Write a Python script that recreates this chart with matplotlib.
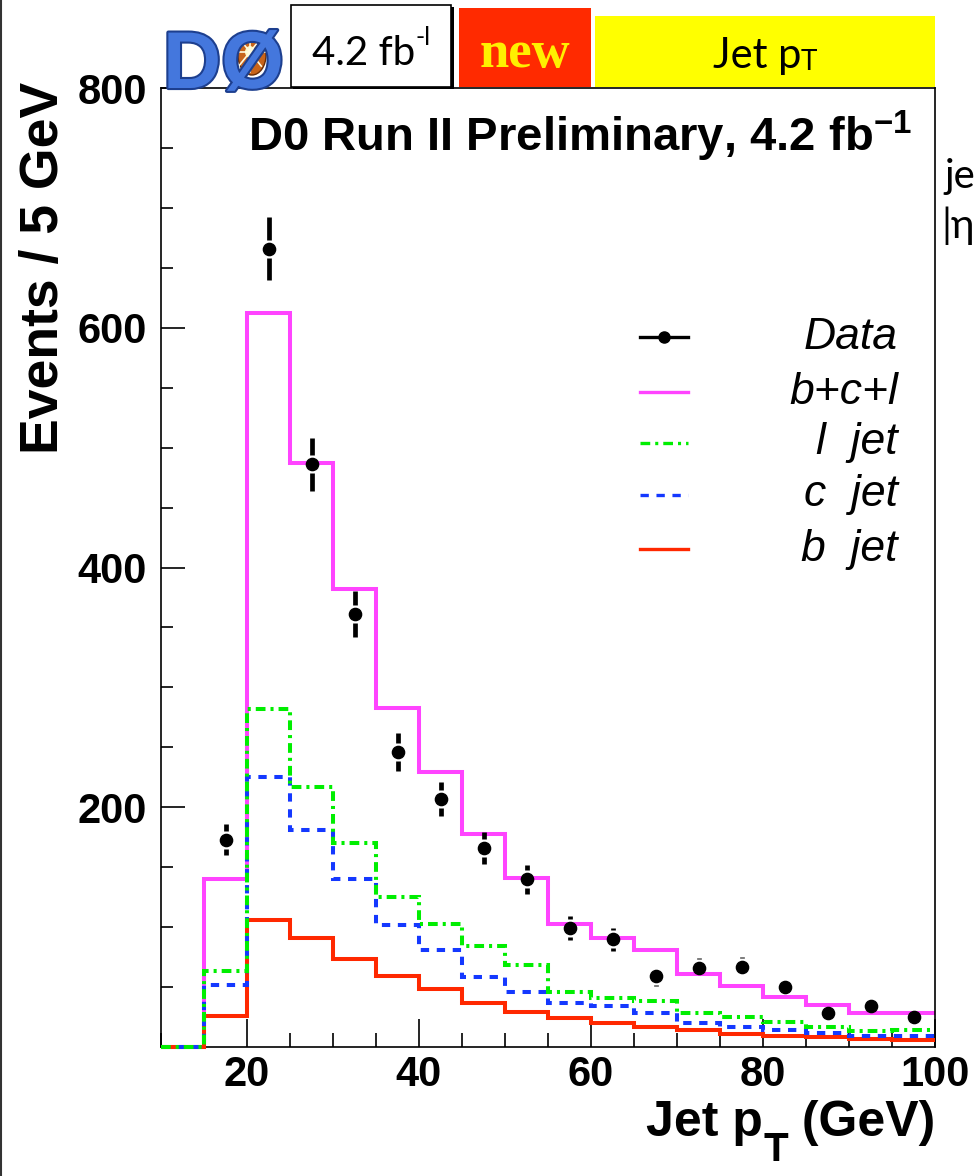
import numpy as np
import matplotlib
matplotlib.use("Agg")
import matplotlib.pyplot as plt
from matplotlib.lines import Line2D
from matplotlib.patches import Rectangle, Ellipse
import matplotlib.patheffects as pe

plt.rcParams['lines.scale_dashes'] = False
plt.rcParams['font.family'] = ['Liberation Sans', 'DejaVu Sans']
plt.rcParams['mathtext.fontset'] = 'custom'
plt.rcParams['mathtext.rm'] = 'Liberation Sans'
plt.rcParams['mathtext.bf'] = 'Liberation Sans:bold'
plt.rcParams['mathtext.it'] = 'Liberation Sans:italic'

# ---- histogram contents (events per 5 GeV bin, 10-100 GeV) ----
bin_edges = np.arange(10, 105, 5)
mc_total = [0, 140, 612, 487, 382, 283, 229, 178, 141, 103, 91, 81, 61, 51, 42, 35, 28, 28]
mc_light = [0, 63, 282, 217, 170, 125, 103, 84, 68, 46, 41, 38, 28, 25, 21, 17, 13, 14]
mc_charm = [0, 52, 225, 181, 140, 102, 81, 58, 46, 37, 34, 28, 20, 17, 14, 12, 9, 9]
mc_bottom = [0, 26, 106, 91, 73, 59, 48, 37, 29, 24, 20, 17, 14, 11, 9, 8, 7, 6]

# ---- data points ----
data_pt = [17.5, 22.5, 27.5, 32.5, 37.5, 42.5, 47.5, 52.5, 57.5,
           62.5, 67.5, 72.5, 77.5, 82.5, 87.5, 92.5, 97.5]
data_events = [173, 666, 486, 361, 246, 207, 166, 140, 99,
               90, 59, 66, 67, 50, 28, 34, 25]
data_err = [13, 26, 22, 19, 16, 14, 13, 12, 10,
            9.5, 8, 8, 8, 7, 5, 6, 5]

legend_labels = ["Data", "b+c+l", "l  jet", "c  jet", "b  jet"]
x_ticks = [20, 40, 60, 80, 100]
y_ticks = [200, 400, 600, 800]

W, H = 978, 1176
fig = plt.figure(figsize=(W / 100, H / 100), dpi=100)
fig.patch.set_facecolor('white')


def fx(px):
    return px / W


def fy(py):
    return 1 - py / H


ax = fig.add_axes([fx(161), fy(1047), fx(935) - fx(161), fy(88) - fy(1047)])
ax.set_xlim(10, 100)
ax.set_ylim(0, 800)

MAGENTA = '#ff44ff'
GREEN = '#00ee00'
BLUE = '#1438ff'
RED = '#ff2800'
LW = 2.9
DASH_L = (0, (7.0, 3.6, 2.2, 3.6))
DASH_C = (0, (6.0, 5.5))

ax.stairs(mc_total, bin_edges, baseline=None, color=MAGENTA, lw=LW,
          zorder=2, clip_on=False)
ax.stairs(mc_bottom, bin_edges, baseline=None, color=RED, lw=LW,
          zorder=3, clip_on=False)
ax.stairs(mc_charm, bin_edges, baseline=None, color=BLUE, lw=LW,
          linestyle=DASH_C, zorder=4, clip_on=False)
ax.stairs(mc_light, bin_edges, baseline=None, color=GREEN, lw=LW,
          linestyle=DASH_L, zorder=5, clip_on=False)

# data: markers with error bars that leave a small gap around the marker
ax.plot(data_pt, data_events, 'o', color='k', ms=8.8, zorder=7, clip_on=False)
px_per_unit = ax.transData.transform((0, 1))[1] - ax.transData.transform((0, 0))[1]
gap = 9.0 / px_per_unit
xp = np.asarray(data_pt)
yp = np.asarray(data_events, dtype=float)
ep = np.asarray(data_err, dtype=float)
show = ep > gap
ax.vlines(xp[show], (yp + gap)[show], (yp + ep)[show], color='k', lw=3.4, zorder=6)
ax.vlines(xp[show], (yp - ep)[show], (yp - gap)[show], color='k', lw=3.4, zorder=6)

# axes styling
for sp in ax.spines.values():
    sp.set_linewidth(1.2)
ax.set_xticks(x_ticks)
ax.set_xticks(np.arange(10, 101, 5), minor=True)
ax.set_yticks(y_ticks)
ax.set_yticks(np.arange(0, 801, 50), minor=True)
ax.tick_params(which='both', direction='in', top=False, right=False, width=1.2)
ax.tick_params(axis='y', which='major', length=17, pad=10, labelsize=30)
ax.tick_params(axis='y', which='minor', length=8.6)
ax.tick_params(axis='x', which='major', length=20, pad=6, labelsize=30)
ax.tick_params(axis='x', which='minor', length=10)
for lab in ax.get_xticklabels() + ax.get_yticklabels():
    lab.set_fontweight('bold')

# legend drawn in axes coordinates
rows = [0.740, 0.683, 0.630, 0.576, 0.519]
styles = [dict(color='k', lw=2.4, ls='-'),
          dict(color=MAGENTA, lw=2.4, ls='-'),
          dict(color=GREEN, lw=2.4, ls=DASH_L),
          dict(color=BLUE, lw=2.4, ls=DASH_C),
          dict(color=RED, lw=2.4, ls='-')]
for yy, lab, st in zip(rows, legend_labels, styles):
    ax.add_line(Line2D([0.619, 0.681], [yy, yy], transform=ax.transAxes, **st))
    ax.text(0.952, yy, lab, transform=ax.transAxes, ha='right', va='center',
            fontsize=32, style='italic')
ax.plot([0.650], [rows[0]], 'o', color='k', ms=8.0, transform=ax.transAxes)

ax.text(0.970, 0.934, r"D0 Run II Preliminary, 4.2 fb$^{\mathbf{-1}}$",
        transform=ax.transAxes, ha='right', va='baseline', fontsize=34,
        fontweight='bold')

# axis titles
fig.text(fx(44), fy(82), "Events / 5 GeV", rotation=90, ha='center', va='top',
         fontsize=38.5, fontweight='bold')

renderer = fig.canvas.get_renderer()


def text_run(pieces, x_px, base_px, ha='left', **common):
    objs = []
    total = 0.0
    for s, size, dy, kw in pieces:
        t = fig.text(0, 0, s, fontsize=size, va='baseline', ha='left', **common, **kw)
        w = t.get_window_extent(renderer).width
        objs.append((t, dy, w))
        total += w
    x = x_px - (total if ha == 'right' else total / 2 if ha == 'center' else 0)
    for t, dy, w in objs:
        t.set_position((fx(x), fy(base_px + dy)))
        x += w


text_run([("Jet p", 36, 0, {}), ("T", 29, 25, {}), (" (GeV)", 36, 0, {})],
         935, 1136, ha='right', fontweight='bold')

# ---- header banner ----
fig.text(fx(163), fy(88), "DØ", fontsize=58, fontweight='bold', color='#4477dd',
         va='baseline', path_effects=[pe.withStroke(linewidth=3, foreground='#1d3f8f')])
fig.patches.append(Ellipse((fx(252), fy(55)), fx(28), 40 / H, transform=fig.transFigure,
                           facecolor='#c8641a', edgecolor='#6b2d05', lw=1))
fig.patches.append(Ellipse((fx(250), fy(52)), fx(10), 12 / H, transform=fig.transFigure,
                           facecolor='#fff8c0', edgecolor='none'))
for ang in np.deg2rad(np.arange(0, 360, 45)):
    fig.add_artist(Line2D([fx(250), fx(250 + 16 * np.cos(ang))],
                          [fy(52), fy(52 - 20 * np.sin(ang))],
                          transform=fig.transFigure, color='#fffbe0', lw=1.2))

fig.patches.append(Rectangle((fx(293), fy(89)), fx(161), 82 / H, transform=fig.transFigure,
                             facecolor='black', edgecolor='none'))
fig.patches.append(Rectangle((fx(291), fy(87)), fx(160), 82 / H, transform=fig.transFigure,
                             facecolor='white', edgecolor='black', lw=1.2))
text_run([("4.2 fb", 29, 0, {}), ("-l", 18, -20, {})], 371, 65, ha='center',
         family='Lato', color='black')

fig.patches.append(Rectangle((fx(459), fy(87)), fx(132), 79 / H, transform=fig.transFigure,
                             facecolor='#ff2a00', edgecolor='none'))
fig.text(fx(525), fy(67), "new", ha='center', va='baseline', fontsize=38,
         fontweight='bold', family='Liberation Serif', color='#fff000')

fig.patches.append(Rectangle((fx(595), fy(87)), fx(340), 71 / H, transform=fig.transFigure,
                             facecolor='#ffff00', edgecolor='none'))
text_run([("Jet p", 30, 0, {}), ("T", 20, 2, {})], 765, 68, ha='center',
         family='Lato', color='black')

# neighbouring text at the right edge and page border on the left
fig.text(fx(975), fy(188), "je", fontsize=29, family='Lato', va='baseline', ha='right')
fig.text(fx(975), fy(238), "|η", fontsize=29, family='Lato', va='baseline', ha='right')
fig.add_artist(Line2D([fx(1.5), fx(1.5)], [0, 1], transform=fig.transFigure,
                      color='#333333', lw=1.5))

fig.savefig("out.png", dpi=100)
